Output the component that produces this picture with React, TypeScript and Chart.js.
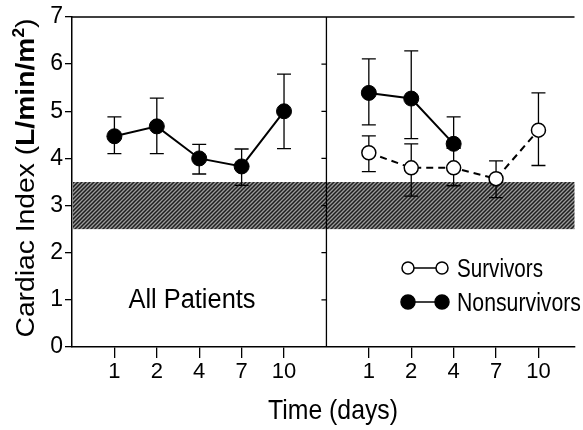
import React, { useEffect, useRef } from "react";
import { Chart, registerables } from "chart.js";

Chart.register(...registerables);

const categories = ["1", "2", "4", "7", "10"];
const allMean = [4.47, 4.68, 4.0, 3.83, 5.0];
const allUpper = [4.88, 5.28, 4.3, 4.2, 5.79];
const allLower = [4.1, 4.1, 3.67, 3.43, 4.21];
const survMean = [4.12, 3.8, 3.8, 3.57, 4.6];
const survUpper = [4.48, 4.31, 4.22, 3.95, 5.39];
const survLower = [3.72, 3.2, 3.42, 3.17, 3.85];
const nonMean = [5.39, 5.27, 4.31];
const nonUpper = [6.11, 6.28, 4.88];
const nonLower = [4.71, 4.42, 4.22];
const normalRange = [2.5, 3.5];
const yMin = 0;
const yMax = 7;

const FONT = "'Liberation Sans', Arial, sans-serif";
const LEFT_OFFSET = 1;
const RIGHT_OFFSET = 7;
const DIVIDER = 6;

function makePattern(ctx: CanvasRenderingContext2D) {
  const c = document.createElement("canvas");
  c.width = 4;
  c.height = 4;
  const p = c.getContext("2d")!;
  p.fillStyle = "#9a9a9a";
  p.fillRect(0, 0, 4, 4);
  p.strokeStyle = "#1e1e1e";
  p.lineWidth = 1.5;
  p.beginPath();
  p.moveTo(-1, 5);
  p.lineTo(5, -1);
  p.moveTo(-1, 1);
  p.lineTo(1, -1);
  p.moveTo(3, 5);
  p.lineTo(5, 3);
  p.stroke();
  return ctx.createPattern(c, "repeat");
}

const errorSets = [
  { offset: LEFT_OFFSET, up: allUpper, lo: allLower },
  { offset: RIGHT_OFFSET, up: survUpper, lo: survLower },
  { offset: RIGHT_OFFSET, up: nonUpper, lo: nonLower },
];

function fitText(
  ctx: CanvasRenderingContext2D,
  text: string,
  font: string,
  x: number,
  y: number,
  targetW: number,
  align: "left" | "center"
) {
  ctx.save();
  ctx.font = font;
  const w = ctx.measureText(text).width;
  const k = targetW / w;
  const startX = align === "center" ? x - targetW / 2 : x;
  ctx.translate(startX, y);
  ctx.scale(k, 1);
  ctx.textAlign = "left";
  ctx.fillText(text, 0, 0);
  ctx.restore();
}

const decorPlugin = {
  id: "decor",
  beforeDatasetsDraw(chart: any) {
    const { ctx, chartArea, scales } = chart;
    const x = scales.x;
    const y = scales.y;
    ctx.save();
    const pat = makePattern(ctx);
    ctx.fillStyle = pat || "#666";
    const yt = y.getPixelForValue(normalRange[1]);
    const yb = y.getPixelForValue(normalRange[0]);
    ctx.fillRect(chartArea.left + 1, yt, chartArea.right - chartArea.left - 1, yb - yt);
    ctx.strokeStyle = "#000";
    ctx.lineWidth = 1.3;
    ctx.beginPath();
    ctx.moveTo(chartArea.left, chartArea.top);
    ctx.lineTo(chartArea.right, chartArea.top);
    ctx.stroke();
    const xd = x.getPixelForValue(DIVIDER);
    ctx.beginPath();
    ctx.moveTo(xd, chartArea.top);
    ctx.lineTo(xd, chartArea.bottom);
    for (let v = yMin + 1; v < yMax; v++) {
      const py = y.getPixelForValue(v);
      ctx.moveTo(xd - 5, py);
      ctx.lineTo(xd, py);
    }
    ctx.stroke();
    ctx.lineWidth = 1.3;
    errorSets.forEach((s) => {
      s.up.forEach((u, i) => {
        const px = x.getPixelForValue(i + s.offset);
        const pu = y.getPixelForValue(u);
        const pl = y.getPixelForValue(s.lo[i]);
        ctx.beginPath();
        ctx.moveTo(px, pu);
        ctx.lineTo(px, pl);
        ctx.moveTo(px - 7, pu);
        ctx.lineTo(px + 7, pu);
        ctx.moveTo(px - 7, pl);
        ctx.lineTo(px + 7, pl);
        ctx.stroke();
      });
    });
    ctx.restore();
  },
  afterDraw(chart: any) {
    const { ctx } = chart;
    ctx.save();
    ctx.fillStyle = "#000";
    ctx.textBaseline = "alphabetic";
    fitText(ctx, "All Patients", `27px ${FONT}`, 192, 308, 127, "center");
    fitText(ctx, "Time (days)", `28px ${FONT}`, 333, 419, 130, "center");
    ctx.strokeStyle = "#000";
    ctx.lineWidth = 1.5;
    const rows = [
      { label: "Survivors", y: 268, fill: "#fff", r: 6, w: 86 },
      { label: "Nonsurvivors", y: 302, fill: "#000", r: 7, w: 124 },
    ];
    rows.forEach((row) => {
      ctx.beginPath();
      ctx.moveTo(408, row.y);
      ctx.lineTo(442, row.y);
      ctx.stroke();
      [408, 442].forEach((cx) => {
        ctx.beginPath();
        ctx.arc(cx, row.y, row.r, 0, Math.PI * 2);
        ctx.fillStyle = row.fill;
        ctx.fill();
        ctx.stroke();
      });
      ctx.fillStyle = "#000";
      fitText(ctx, row.label, `25px ${FONT}`, 457, row.y + 9, row.w, "left");
    });
    const parts = [
      { t: "Cardiac Index (", f: `26px ${FONT}`, dy: 0 },
      { t: "L/min/m", f: `bold 26px ${FONT}`, dy: 0 },
      { t: "2", f: `bold 16px ${FONT}`, dy: -10 },
      { t: ")", f: `26px ${FONT}`, dy: 0 },
    ];
    let W = 0;
    parts.forEach((p) => {
      ctx.font = p.f;
      W += ctx.measureText(p.t).width;
    });
    const centerY = 178;
    const k = 319 / W;
    ctx.translate(34, centerY);
    ctx.rotate(-Math.PI / 2);
    ctx.scale(k, 1);
    let cx = -W / 2;
    ctx.textAlign = "left";
    parts.forEach((p) => {
      ctx.font = p.f;
      ctx.fillText(p.t, cx, p.dy);
      cx += ctx.measureText(p.t).width;
    });
    ctx.restore();
  },
};

export default function App() {
  const ref = useRef<HTMLCanvasElement>(null);
  useEffect(() => {
    if (!ref.current) return;
    const toPts = (vals: number[], off: number) =>
      vals.map((v, i) => ({ x: i + off, y: v }));
    const chart = new Chart(ref.current, {
      type: "line",
      data: {
        datasets: [
          {
            label: "All Patients",
            data: toPts(allMean, LEFT_OFFSET),
            borderColor: "#000",
            borderWidth: 2,
            pointRadius: 7.5,
            pointBackgroundColor: "#000",
            pointBorderColor: "#000",
            pointBorderWidth: 1,
          },
          {
            label: "Survivors",
            data: toPts(survMean, RIGHT_OFFSET),
            borderColor: "#000",
            borderWidth: 2,
            borderDash: [7, 5],
            pointRadius: 7,
            pointBackgroundColor: "#fff",
            pointBorderColor: "#000",
            pointBorderWidth: 1.5,
          },
          {
            label: "Nonsurvivors",
            data: toPts(nonMean, RIGHT_OFFSET),
            borderColor: "#000",
            borderWidth: 2,
            pointRadius: 7.5,
            pointBackgroundColor: "#000",
            pointBorderColor: "#000",
            pointBorderWidth: 1,
          },
        ],
      },
      options: {
        animation: false,
        responsive: false,
        maintainAspectRatio: false,
        layout: { padding: { top: 17, right: 0, left: 0, bottom: 0 } },
        plugins: {
          legend: { display: false },
          tooltip: { enabled: false },
        },
        scales: {
          x: {
            type: "linear",
            min: 0,
            max: 11.85,
            afterBuildTicks: (axis: any) => {
              const t: any[] = [];
              categories.forEach((_, i) => t.push({ value: i + LEFT_OFFSET }));
              categories.forEach((_, i) => t.push({ value: i + RIGHT_OFFSET }));
              axis.ticks = t;
            },
            afterFit: (s: any) => {
              s.height = 83;
            },
            ticks: {
              color: "#000",
              font: { family: FONT, size: 22 },
              padding: 1,
              maxRotation: 0,
              autoSkip: false,
              callback: (v: any) => {
                const n = Number(v);
                const idx = n < DIVIDER ? n - LEFT_OFFSET : n - RIGHT_OFFSET;
                return categories[idx] ?? "";
              },
            },
            grid: {
              drawOnChartArea: false,
              drawTicks: true,
              tickLength: 11,
              color: "#000",
              lineWidth: 1.3,
            },
            border: { display: true, color: "#000", width: 1.5 },
            title: { display: false },
          },
          y: {
            type: "linear",
            min: yMin,
            max: yMax,
            afterFit: (s: any) => {
              s.width = 72;
            },
            ticks: {
              stepSize: 1,
              color: "#000",
              font: { family: FONT, size: 23 },
              padding: 2,
            },
            grid: {
              drawOnChartArea: false,
              drawTicks: true,
              tickLength: 7,
              color: "#000",
              lineWidth: 1.3,
            },
            border: { display: true, color: "#000", width: 1.5 },
          },
        },
      },
      plugins: [decorPlugin],
    });
    return () => chart.destroy();
  }, []);
  return (
    <div style={{ position: "absolute", left: 0, top: 0, width: 583, height: 430, background: "#fff" }}>
      <canvas ref={ref} width={583} height={430} style={{ width: 583, height: 430 }} />
    </div>
  );
}
